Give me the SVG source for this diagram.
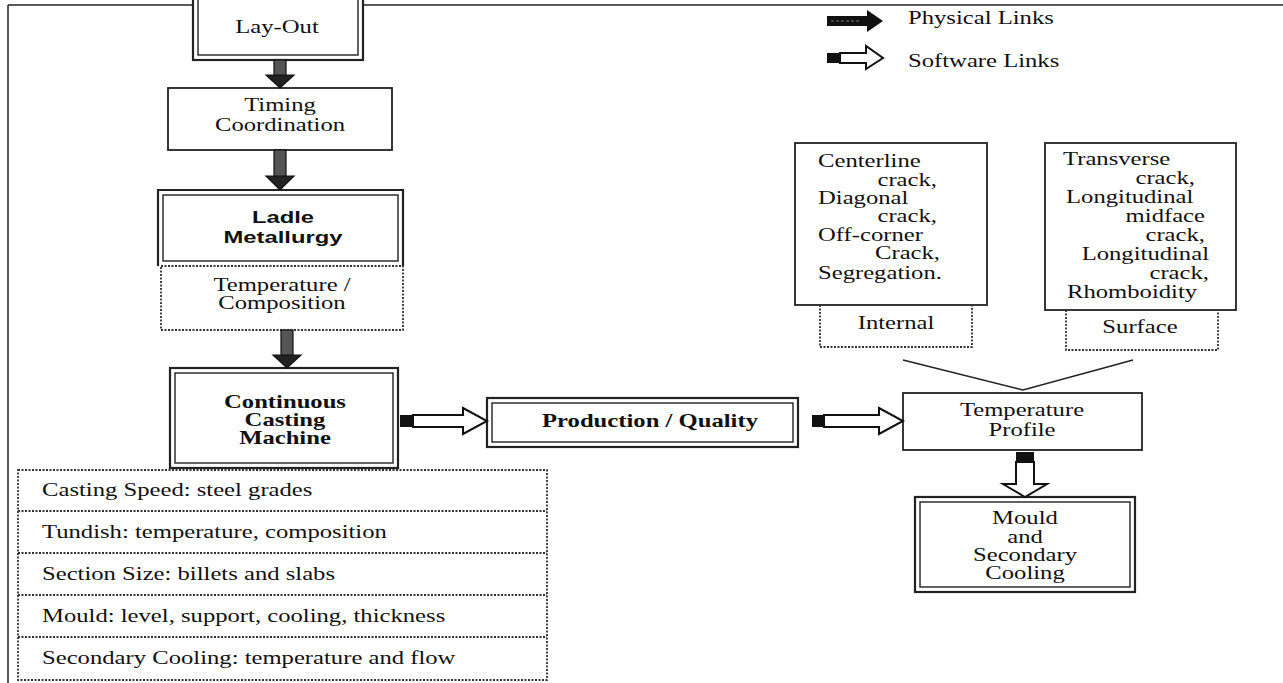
<svg xmlns="http://www.w3.org/2000/svg" width="1283" height="683" viewBox="0 0 1283 683">
<style>
.t{font-family:"Liberation Serif","Times New Roman",serif;font-size:18px;fill:#111}
.tb{font-family:"Liberation Serif","Times New Roman",serif;font-size:18px;font-weight:bold;fill:#111}
.sb{font-family:"Liberation Sans",Arial,sans-serif;font-size:17px;font-weight:bold;fill:#111}
.c{text-anchor:middle}
.e{text-anchor:end}
.box{fill:#fff;stroke:#222;stroke-width:1.8}
.outer{fill:#fff;stroke:#222;stroke-width:2.2}
.inner{fill:none;stroke:#222;stroke-width:1.4}
.dot{fill:none;stroke:#333;stroke-width:1.8;stroke-dasharray:2 1.5}
.shaft{fill:#555;stroke:#111;stroke-width:1.2}
.head{fill:#222;stroke:#111;stroke-width:1.2}
.soft{fill:#fff;stroke:#111;stroke-width:2}
.tail{fill:#111}
.line{fill:none;stroke:#222;stroke-width:1.5}
</style>

<g id="frame">
<line class="line" x1="8" y1="5" x2="1283" y2="5" stroke-width="2"/>
<line class="line" x1="8" y1="5" x2="8" y2="683" stroke-width="2"/>
</g>

<g id="layout">
<rect class="outer" x="193" y="-5" width="170" height="65"/>
<rect class="inner" x="198" y="-5" width="160" height="60"/>
<text class="t c" transform="translate(277,33) scale(1.37,1)">Lay-Out</text>
</g>

<g id="timing">
<rect class="box" x="168" y="88" width="224" height="62"/>
<text class="t c" transform="translate(280,111) scale(1.37,1)">Timing</text>
<text class="t c" transform="translate(280,131) scale(1.37,1)">Coordination</text>
</g>

<g id="ladle">
<path class="outer" d="M158,266 L158,190 L403,190 L403,266"/>
<rect class="inner" x="163" y="195" width="235" height="66"/>
<text class="sb c" transform="translate(283,223) scale(1.4,1)">Ladle</text>
<text class="sb c" transform="translate(283,243) scale(1.4,1)">Metallurgy</text>
</g>

<g id="tempcomp">
<rect class="dot" x="161" y="266" width="242" height="64"/>
<text class="t c" transform="translate(282,291) scale(1.37,1)">Temperature /</text>
<text class="t c" transform="translate(282,309) scale(1.37,1)">Composition</text>
</g>

<g id="ccm">
<rect class="outer" x="170" y="368" width="228" height="100"/>
<rect class="inner" x="175" y="373" width="218" height="90"/>
<text class="tb c" transform="translate(285,408) scale(1.37,1)">Continuous</text>
<text class="tb c" transform="translate(285,426) scale(1.37,1)">Casting</text>
<text class="tb c" transform="translate(285,444) scale(1.37,1)">Machine</text>
</g>

<g id="params">
<rect class="dot" x="18" y="470" width="529" height="210"/>
<line class="dot" x1="18" y1="511" x2="547" y2="511"/>
<line class="dot" x1="18" y1="553" x2="547" y2="553"/>
<line class="dot" x1="18" y1="595" x2="547" y2="595"/>
<line class="dot" x1="18" y1="637" x2="547" y2="637"/>
<text class="t" transform="translate(42,496) scale(1.37,1)">Casting Speed: steel grades</text>
<text class="t" transform="translate(42,538) scale(1.37,1)">Tundish: temperature, composition</text>
<text class="t" transform="translate(42,580) scale(1.37,1)">Section Size: billets and slabs</text>
<text class="t" transform="translate(42,622) scale(1.37,1)">Mould: level, support, cooling, thickness</text>
<text class="t" transform="translate(42,664) scale(1.37,1)">Secondary Cooling: temperature and flow</text>
</g>

<g id="prodq">
<rect class="outer" x="487" y="398" width="311" height="49"/>
<rect class="inner" x="492" y="403" width="301" height="39"/>
<text class="tb c" transform="translate(650,427) scale(1.37,1)">Production / Quality</text>
</g>

<g id="tprofile">
<rect class="box" x="903" y="393" width="239" height="57"/>
<text class="t c" transform="translate(1022,416) scale(1.37,1)">Temperature</text>
<text class="t c" transform="translate(1022,436) scale(1.37,1)">Profile</text>
</g>

<g id="mould">
<rect class="outer" x="915" y="497" width="220" height="95"/>
<rect class="inner" x="920" y="502" width="210" height="85"/>
<text class="t c" transform="translate(1025,524) scale(1.37,1)">Mould</text>
<text class="t c" transform="translate(1025,543) scale(1.37,1)">and</text>
<text class="t c" transform="translate(1025,561) scale(1.37,1)">Secondary</text>
<text class="t c" transform="translate(1025,579) scale(1.37,1)">Cooling</text>
</g>

<g id="internal-defects">
<rect class="box" x="795" y="143" width="192" height="162"/>
<text class="t" transform="translate(818,167) scale(1.37,1)">Centerline</text>
<text class="t e" transform="translate(937,186) scale(1.37,1)">crack,</text>
<text class="t" transform="translate(818,204) scale(1.37,1)">Diagonal</text>
<text class="t e" transform="translate(937,222) scale(1.37,1)">crack,</text>
<text class="t" transform="translate(818,241) scale(1.37,1)">Off-corner</text>
<text class="t e" transform="translate(940,259) scale(1.37,1)">Crack,</text>
<text class="t" transform="translate(818,279) scale(1.37,1)">Segregation.</text>
</g>

<g id="internal">
<path class="dot" d="M820,305 L820,347 L972,347 L972,305"/>
<text class="t c" transform="translate(896,329) scale(1.37,1)">Internal</text>
</g>

<g id="surface-defects">
<rect class="box" x="1045" y="143" width="191" height="167"/>
<text class="t" transform="translate(1063,165) scale(1.37,1)">Transverse</text>
<text class="t e" transform="translate(1195,184) scale(1.37,1)">crack,</text>
<text class="t" transform="translate(1066,203) scale(1.37,1)">Longitudinal</text>
<text class="t e" transform="translate(1205,222) scale(1.37,1)">midface</text>
<text class="t e" transform="translate(1205,241) scale(1.37,1)">crack,</text>
<text class="t e" transform="translate(1209,260) scale(1.37,1)">Longitudinal</text>
<text class="t e" transform="translate(1209,279) scale(1.37,1)">crack,</text>
<text class="t" transform="translate(1067,298) scale(1.37,1)">Rhomboidity</text>
</g>

<g id="surface">
<path class="dot" d="M1066,310 L1066,350 L1218,350 L1218,310"/>
<text class="t c" transform="translate(1140,333) scale(1.37,1)">Surface</text>
</g>

<g id="legend">
<polygon fill="#111" points="827,16 867,16 867,10 883,21 867,32 867,26 827,26"/>
<line x1="831" y1="21" x2="860" y2="21" stroke="#777" stroke-width="1" stroke-dasharray="3 2"/>
<text class="t" transform="translate(908,24) scale(1.37,1)">Physical Links</text>
<rect class="tail" x="827" y="53" width="13" height="10"/>
<polygon class="soft" points="840,53 866,53 866,46 883,58 866,69 866,63 840,63"/>
<text class="t" transform="translate(908,67) scale(1.37,1)">Software Links</text>
</g>

<g id="connectors">
<rect class="shaft" x="274" y="60" width="12" height="16"/>
<polygon class="head" points="266,75 294,75 280,88"/>
<rect class="shaft" x="274" y="150" width="12" height="27"/>
<polygon class="head" points="266,176 294,176 280,190"/>
<rect class="shaft" x="281" y="330" width="12" height="26"/>
<polygon class="head" points="273,355 301,355 287,368"/>
<rect class="tail" x="400" y="415" width="13" height="12"/>
<polygon class="soft" points="413,415 463,415 463,408 487,421 463,434 463,427 413,427"/>
<rect class="tail" x="812" y="415" width="12" height="12"/>
<polygon class="soft" points="824,415 879,415 879,408 903,421 879,434 879,427 824,427"/>
<rect class="tail" x="1016" y="452" width="18" height="10"/>
<polygon class="soft" points="1016,462 1034,462 1034,484 1047,484 1025,497 1003,484 1016,484"/>
<polyline class="line" points="903,360 1023,390 1133,360"/>
</g>
</svg>
